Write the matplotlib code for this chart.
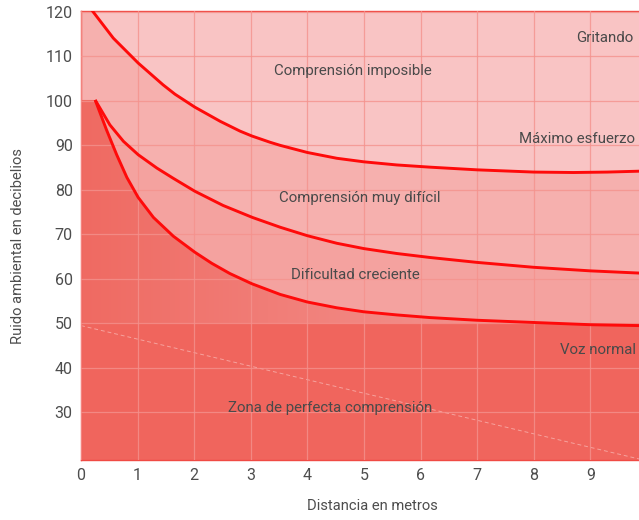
import numpy as np
import matplotlib
matplotlib.use('Agg')
import matplotlib.pyplot as plt
from matplotlib.colors import LinearSegmentedColormap

# curves (distance in m, noise in dB)
top_x = [0.19, 0.57, 1.01, 1.45, 1.66, 2.01, 2.46, 2.81, 3.02, 3.34, 3.52, 4.0, 4.52, 5.0,
         5.58, 6.17, 7.0, 8.0, 8.7, 9.3, 9.87]
top_y = [120.4, 114.1, 108.5, 103.6, 101.5, 98.6, 95.4, 93.2, 92.1, 90.7, 90.0, 88.4, 87.1, 86.3,
         85.6, 85.1, 84.5, 84.0, 83.9, 84.0, 84.2]

mid_x = [0.25, 0.51, 0.75, 1.01, 1.34, 1.63, 2.01, 2.51, 3.03, 3.52, 4.0, 4.52, 5.0, 5.58,
         6.17, 7.0, 8.0, 9.0, 9.87]
mid_y = [100.2, 94.6, 90.9, 87.9, 84.9, 82.6, 79.7, 76.5, 73.8, 71.6, 69.7, 68.0, 66.8, 65.7,
         64.8, 63.7, 62.6, 61.8, 61.3]

low_x = [0.25, 0.45, 0.63, 0.81, 1.01, 1.28, 1.63, 2.01, 2.31, 2.63, 3.02, 3.52, 4.0, 4.52,
         5.0, 5.58, 6.17, 7.0, 8.0, 9.0, 9.87]
low_y = [100.2, 93.5, 87.9, 82.8, 78.3, 73.8, 69.6, 66.0, 63.5, 61.2, 58.9, 56.5, 54.8, 53.5,
         52.6, 51.9, 51.3, 50.7, 50.2, 49.7, 49.5]

normal_limit = 50  # dB, below it: perfect comprehension

labels = ['Gritando', 'Comprensión imposible', 'Máximo esfuerzo', 'Comprensión muy difícil',
          'Dificultad creciente', 'Voz normal', 'Zona de perfecta comprensión']
label_x = [9.25, 4.80, 8.77, 4.93, 4.84, 9.14, 4.41]
label_y = [114.2, 106.6, 91.4, 78.1, 60.9, 44.0, 30.9]

xticks = list(range(0, 10))
yticks = list(range(30, 130, 10))

plt.rcParams['font.family'] = ['Roboto', 'DejaVu Sans']

XMAX, YMIN, YMAX = 9.86, 19.3, 120.2

fig = plt.figure(figsize=(6.39, 5.2), dpi=100)
ax = fig.add_axes([0.1268, 0.1154, 0.8732, 0.8635])
ax.set_facecolor('#f9c4c4')

# zone under the top curve
ax.fill([0] + top_x + [top_x[-1], 0], [YMAX] + top_y + [YMIN, YMIN],
        color='#f6b0ae', lw=0, zorder=0.2)
# zone under the middle curve
ax.fill([0] + mid_x + [mid_x[-1], 0], [mid_y[0]] + mid_y + [YMIN, YMIN],
        color='#f4a29f', lw=0, zorder=0.3)
# zone under the lower curve, shaded from left to right
poly = ax.fill([0] + low_x + [low_x[-1], 0], [low_y[0]] + low_y + [YMIN, YMIN],
               color='none', lw=0, zorder=0.4)[0]
cmap = LinearSegmentedColormap.from_list('z', ['#ef6a62', '#f17d77', '#f28f8a', '#f29590'])
img = ax.imshow(np.linspace(0, 1, 256).reshape(1, -1), cmap=cmap, aspect='auto',
                extent=[0, 9.87, normal_limit, low_y[0]], zorder=0.4)
img.set_clip_path(poly)
ax.axhspan(YMIN, normal_limit, color='#f0655d', lw=0, zorder=0.5)

# faint dashed diagonal
ax.plot([0, 9.87], [49.5, 19.5], color='white', lw=0.7, ls=(0, (4, 3)), alpha=0.4, zorder=1)

ax.set_xlim(0, XMAX)
ax.set_ylim(YMIN, YMAX)
ax.set_xticks(xticks)
ax.set_yticks(yticks)
ax.grid(True, color='#f4928d', lw=0.9, alpha=0.8, zorder=1)
ax.set_axisbelow(False)
ax.tick_params(length=0, labelsize=11.5, colors='#4d4d4d', pad=6)

for cx, cy in [(top_x, top_y), (mid_x, mid_y), (low_x, low_y)]:
    ax.plot(cx, cy, color='#ff0a0a', lw=2.1, zorder=3, solid_capstyle='butt',
            solid_joinstyle='round')

for t, x, y in zip(labels, label_x, label_y):
    ax.text(x, y, t, ha='center', va='center', fontsize=10.8, color='#4a4a4a', zorder=4)

for s in ['left', 'bottom', 'top']:
    ax.spines[s].set_color('#f04a44')
    ax.spines[s].set_linewidth(1.0)
ax.spines['right'].set_visible(False)

fig.text(372 / 639, 1 - 506 / 520, 'Distancia en metros', ha='center', va='center',
         fontsize=10.6, color='#4d4d4d')
fig.text(18 / 639, 1 - 246 / 520, 'Ruido ambiental en decibelios', ha='center', va='center',
         rotation=90, fontsize=10.6, color='#4d4d4d')

fig.savefig('out.png', dpi=100)
